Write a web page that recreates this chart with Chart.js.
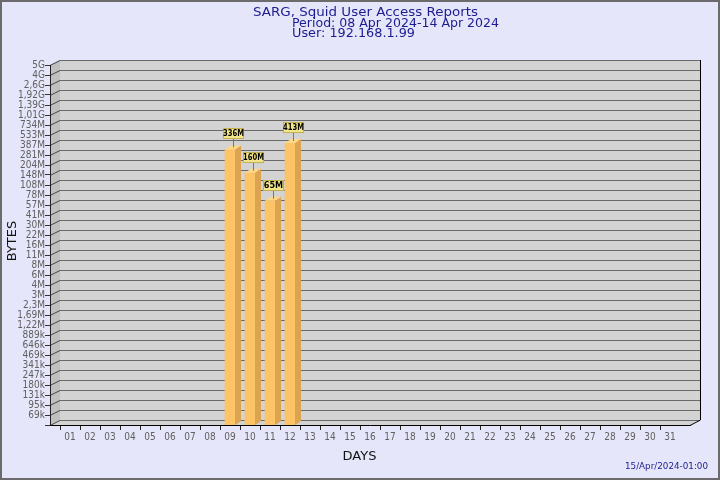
<!DOCTYPE html>
<html><head><meta charset="utf-8">
<script src="https://cdn.jsdelivr.net/npm/chart.js@4/dist/chart.umd.min.js"></script>
<style>html,body{margin:0;padding:0;background:#e6e6fa;}#wrap{width:720px;height:480px;position:relative;}</style>
</head><body><div id="wrap"><canvas id="c" width="720" height="480"></canvas></div>
<script>
// ---- data ----
const days = ['01','02','03','04','05','06','07','08','09','10','11','12','13','14','15','16','17','18','19','20','21','22','23','24','25','26','27','28','29','30','31'];
const dailyBytes = [null,null,null,null,null,null,null,null,336e6,160e6,65e6,413e6,null,null,null,null,null,null,null,null,null,null,null,null,null,null,null,null,null,null,null];
const yTickLabels = ['69k','95k','131k','180k','247k','341k','469k','646k','889k','1,22M','1,69M','2,3M','3M','4M','6M','8M','11M','16M','22M','30M','41M','57M','78M','108M','148M','204M','281M','387M','533M','734M','1,01G','1,39G','1,92G','2,6G','4G','5G'];
const yFirstTick = 69e3, yLastTick = 5e9;
const titleLines = ['SARG, Squid User Access Reports','Period: 08 Apr 2024-14 Apr 2024','User: 192.168.1.99'];
const xTitle = 'DAYS', yTitle = 'BYTES', stamp = '15/Apr/2024-01:00';

const ratio = Math.pow(yLastTick / yFirstTick, 1 / (yTickLabels.length - 1));
const yMin = yFirstTick / ratio;
const FONT = 'DejaVu Sans';
const CFONT = '"DejaVu Sans Condensed", "DejaVu Sans"';
const DX = 10, DY = -5;       // panel depth
const BDX = 6, BDY = -4;      // bar depth

function fmt(v){ return Math.round(v/1e6) + 'M'; }

// draw text stretched to a given width (left aligned at x)
function fitText(ctx, txt, x, y, width) {
  const w = ctx.measureText(txt).width;
  ctx.save();
  ctx.translate(x, y);
  ctx.scale(width / w, 1);
  ctx.textAlign = 'left';
  ctx.fillText(txt, 0, 0);
  ctx.restore();
}

const decor = {
  id: 'decor',
  beforeDraw(chart) {
    const ctx = chart.ctx, ys = chart.scales.y, xs = chart.scales.x;
    const L = xs.left, R = xs.right, T = ys.top, B = ys.bottom;
    ctx.save();
    ctx.fillStyle = '#e6e6fa'; ctx.fillRect(0,0,720,480);
    ctx.fillStyle = '#d3d3d3';
    ctx.fillRect(L+DX, T+DY, R-L, B-T);
    ctx.beginPath(); ctx.moveTo(L,B); ctx.lineTo(R,B); ctx.lineTo(R+DX,B+DY); ctx.lineTo(L+DX,B+DY); ctx.closePath(); ctx.fill();
    ctx.fillStyle = '#c0c0c0';
    ctx.beginPath(); ctx.moveTo(L,T); ctx.lineTo(L+DX,T+DY); ctx.lineTo(L+DX,B+DY); ctx.lineTo(L,B); ctx.closePath(); ctx.fill();
    ctx.lineWidth = 1;
    ys.ticks.forEach(t => {
      const py = Math.round(ys.getPixelForValue(t.value)) + 0.5;
      ctx.strokeStyle = '#6a6a6a';
      ctx.beginPath(); ctx.moveTo(L+DX, py+DY); ctx.lineTo(R+DX, py+DY); ctx.stroke();
      ctx.strokeStyle = '#444';
      ctx.beginPath(); ctx.moveTo(L, py); ctx.lineTo(L+DX, py+DY); ctx.stroke();
    });
    ctx.strokeStyle = '#000';
    ctx.beginPath(); ctx.moveTo(R+DX+0.5, T+DY); ctx.lineTo(R+DX+0.5, B+DY); ctx.lineTo(R, B+0.5); ctx.stroke();
    ctx.restore();
  },
  afterDatasetsDraw(chart) {
    const ctx = chart.ctx;
    const meta = chart.getDatasetMeta(0);
    const data = chart.data.datasets[0].data;
    ctx.save();
    meta.data.forEach((bar, i) => {
      const v = data[i];
      if (v == null) return;
      const p = bar.getProps(['x','y','base','width'], true);
      const l = p.x - p.width/2, r = p.x + p.width/2, top = p.y, bot = p.base;
      ctx.fillStyle = '#dca450';
      ctx.beginPath(); ctx.moveTo(r,top); ctx.lineTo(r+BDX,top+BDY); ctx.lineTo(r+BDX,bot+BDY); ctx.lineTo(r,bot); ctx.closePath(); ctx.fill();
      ctx.fillStyle = '#ffd788';
      ctx.beginPath(); ctx.moveTo(l,top); ctx.lineTo(l+BDX,top+BDY); ctx.lineTo(r+BDX,top+BDY); ctx.lineTo(r,top); ctx.closePath(); ctx.fill();
      const txt = fmt(v);
      const cx = Math.round(p.x + BDX/2);
      const bb = Math.round(top - 10);
      ctx.strokeStyle = '#777';
      ctx.beginPath(); ctx.moveTo(cx+0.5, bb); ctx.lineTo(cx+0.5, top-2); ctx.stroke();
      const bw = 21;
      const bx = Math.round(cx - bw/2);
      ctx.fillStyle = '#f2e68a';
      ctx.fillRect(bx, bb-11, bw, 11);
      ctx.strokeStyle = '#c4b04c';
      ctx.strokeRect(bx+0.5, bb-10.5, bw-1, 10);
      ctx.fillStyle = '#000';
      ctx.font = 'bold 9px ' + CFONT;
      ctx.textAlign = 'center'; ctx.textBaseline = 'middle';
      ctx.fillText(txt, cx+0.5, bb-5, bw);
    });
    ctx.restore();
  },
  afterDraw(chart) {
    const ctx = chart.ctx;
    ctx.save();
    ctx.fillStyle = '#1c1c90';
    ctx.font = '12.5px "' + FONT + '"';
    ctx.textBaseline = 'alphabetic';
    fitText(ctx, titleLines[0], 253, 16, 225);
    fitText(ctx, titleLines[1], 292, 27, 207);
    fitText(ctx, titleLines[2], 292, 37, 123);
    ctx.font = '9px "' + FONT + '"';
    fitText(ctx, stamp, 625, 469, 83);
    ctx.fillStyle = '#111';
    ctx.font = '13px "' + FONT + '"';
    ctx.textAlign = 'center';
    ctx.fillText(xTitle, 359.5, 460);
    ctx.translate(16, 241);
    ctx.rotate(-Math.PI/2);
    ctx.fillText(yTitle, 0, 0);
    ctx.restore();
    ctx.save();
    ctx.strokeStyle = '#6b6b6b'; ctx.lineWidth = 2;
    ctx.strokeRect(1,1,718,478);
    ctx.restore();
  }
};

new Chart(document.getElementById('c'), {
  type: 'bar',
  data: {
    labels: [''].concat(days, ['']),
    datasets: [{
      data: [null].concat(dailyBytes, [null]),
      backgroundColor: '#fcc466',
      borderWidth: 0,
      barThickness: 10
    }]
  },
  options: {
    responsive: false,
    animation: false,
    devicePixelRatio: 1,
    layout: { padding: { top: 65, right: 30, left: 0, bottom: 0 } },
    plugins: { legend: { display: false }, tooltip: { enabled: false }, title: { display: false } },
    scales: {
      x: {
        type: 'category',
        offset: false,
        afterFit: s => { s.height = 55; },
        ticks: { autoSkip: false, maxRotation: 0, minRotation: 0, padding: 1, color: '#606060', font: { family: '"DejaVu Sans Condensed", "DejaVu Sans"', size: 10 } },
        grid: { drawOnChartArea: false, tickLength: 5, color: c => (c.index === days.length + 1 ? 'rgba(0,0,0,0)' : '#222') },
        border: { color: '#000', width: 1 }
      },
      y: {
        type: 'logarithmic',
        min: yMin,
        max: yLastTick,
        afterFit: s => { s.width = 50; },
        afterBuildTicks: s => {
          s.ticks = [{ value: yMin }].concat(yTickLabels.map((l, i) => ({ value: yFirstTick * Math.pow(ratio, i) })));
        },
        ticks: { autoSkip: false, padding: 0, color: '#606060', font: { family: '"DejaVu Sans Condensed", "DejaVu Sans"', size: 10 },
          callback: (v, i) => (i === 0 ? '' : yTickLabels[i - 1]) },
        grid: { drawOnChartArea: false, tickLength: 5, color: '#333' },
        border: { color: '#222', width: 1 }
      }
    }
  },
  plugins: [decor]
});
</script></body></html>
